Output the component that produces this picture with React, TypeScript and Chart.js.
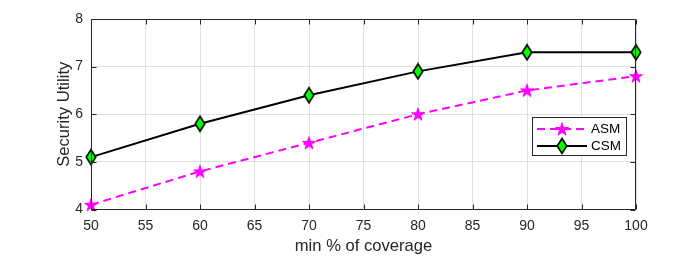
import React, { useEffect, useRef } from "react";
import { Chart, registerables } from "chart.js";

Chart.register(...registerables);

const coverage = [50, 60, 70, 80, 90, 100];
const asmValues = [4.1, 4.8, 5.4, 6.0, 6.5, 6.8];
const csmValues = [5.1, 5.8, 6.4, 6.9, 7.3, 7.3];
const seriesLabels = ["ASM", "CSM"];
const xTitle = "min % of coverage";
const yTitle = "Security Utility";

const FONT = "'Liberation Sans', Arial, Helvetica, sans-serif";
const TEXT = "#262626";
const MAGENTA = "#ff00ff";
const GREEN = "#00ff00";

function makePentagram(): HTMLCanvasElement {
  const c = document.createElement("canvas");
  c.width = 16;
  c.height = 16;
  const ctx = c.getContext("2d")!;
  const cx = 8, cy = 8.6, R = 6.8, r = R * 0.382;
  ctx.beginPath();
  for (let i = 0; i < 10; i++) {
    const rad = i % 2 === 0 ? R : r;
    const a = -Math.PI / 2 + (i * Math.PI) / 5;
    const px = cx + rad * Math.cos(a);
    const py = cy + rad * Math.sin(a);
    if (i === 0) ctx.moveTo(px, py);
    else ctx.lineTo(px, py);
  }
  ctx.closePath();
  ctx.fillStyle = MAGENTA;
  ctx.fill();
  ctx.strokeStyle = MAGENTA;
  ctx.lineWidth = 1;
  ctx.stroke();
  return c;
}

function makeDiamond(): HTMLCanvasElement {
  const c = document.createElement("canvas");
  c.width = 14;
  c.height = 18;
  const ctx = c.getContext("2d")!;
  ctx.beginPath();
  ctx.moveTo(7, 1.5);
  ctx.lineTo(11.8, 9);
  ctx.lineTo(7, 16.5);
  ctx.lineTo(2.2, 9);
  ctx.closePath();
  ctx.fillStyle = GREEN;
  ctx.fill();
  ctx.strokeStyle = "#000";
  ctx.lineWidth = 1.6;
  ctx.stroke();
  return c;
}

const matlabAxes = {
  id: "matlabAxes",
  afterDatasetsDraw(chart: any) {
    const { ctx, chartArea, scales } = chart;
    const { left, right, top, bottom } = chartArea;
    const L = Math.round(left) + 0.5;
    const R = Math.round(right) - 0.5;
    const T = Math.round(top) + 0.5;
    const B = Math.round(bottom) - 0.5;
    ctx.save();
    ctx.strokeStyle = TEXT;
    ctx.lineWidth = 1;
    ctx.beginPath();
    ctx.rect(L, T, R - L, B - T);
    const tl = 5;
    scales.x.ticks.forEach((t: any) => {
      const px = Math.round(scales.x.getPixelForValue(t.value)) + 0.5;
      ctx.moveTo(px, B);
      ctx.lineTo(px, B - tl);
      ctx.moveTo(px, T);
      ctx.lineTo(px, T + tl);
    });
    scales.y.ticks.forEach((t: any) => {
      const py = Math.round(scales.y.getPixelForValue(t.value)) + 0.5;
      ctx.moveTo(L, py);
      ctx.lineTo(L + tl, py);
      ctx.moveTo(R, py);
      ctx.lineTo(R - tl, py);
    });
    ctx.stroke();
    ctx.restore();
  },
  afterDraw(chart: any) {
    const { ctx } = chart;
    const bx = 532.5, by = 117.5, bw = 94, bh = 38;
    ctx.save();
    ctx.fillStyle = "#ffffff";
    ctx.fillRect(bx, by, bw, bh);
    ctx.strokeStyle = TEXT;
    ctx.lineWidth = 1;
    ctx.strokeRect(bx, by, bw, bh);
    const rows = [129, 146];
    chart.data.datasets.forEach((ds: any, i: number) => {
      const y = rows[i];
      ctx.save();
      ctx.strokeStyle = ds.borderColor;
      ctx.lineWidth = ds.borderWidth;
      ctx.setLineDash(ds.borderDash || []);
      ctx.beginPath();
      ctx.moveTo(537, y);
      ctx.lineTo(587, y);
      ctx.stroke();
      ctx.restore();
      const img = ds.pointStyle as HTMLCanvasElement;
      ctx.drawImage(img, 562 - img.width / 2, y - img.height / 2);
      ctx.fillStyle = "#000";
      ctx.font = `13.5px ${FONT}`;
      ctx.textAlign = "left";
      ctx.textBaseline = "middle";
      ctx.fillText(ds.label, 591, y + 0.5);
    });
    ctx.restore();
  },
};

export default function App() {
  const ref = useRef<HTMLCanvasElement>(null);
  useEffect(() => {
    if (!ref.current) return;
    const star = makePentagram();
    const diamond = makeDiamond();
    const chart = new Chart(ref.current, {
      type: "line",
      data: {
        datasets: [
          {
            label: seriesLabels[0],
            data: coverage.map((x, i) => ({ x, y: asmValues[i] })),
            borderColor: MAGENTA,
            backgroundColor: MAGENTA,
            borderWidth: 2,
            borderDash: [8, 5],
            pointStyle: star as any,
            pointRadius: 6,
            tension: 0,
          },
          {
            label: seriesLabels[1],
            data: coverage.map((x, i) => ({ x, y: csmValues[i] })),
            borderColor: "#000000",
            backgroundColor: GREEN,
            borderWidth: 2,
            pointStyle: diamond as any,
            pointRadius: 6,
            tension: 0,
          },
        ],
      },
      options: {
        animation: false,
        responsive: false,
        maintainAspectRatio: false,
        clip: false as any,
        layout: { padding: { left: 0, right: 64, top: 19, bottom: 0 } },
        plugins: { legend: { display: false }, tooltip: { enabled: false } },
        scales: {
          x: {
            type: "linear",
            min: 50,
            max: 100,
            ticks: { stepSize: 5, color: TEXT, font: { family: FONT, size: 14 }, padding: 8, maxRotation: 0 },
            grid: { color: "#dfdfdf", drawTicks: false },
            border: { display: false },
            title: {
              display: true,
              text: xTitle,
              color: TEXT,
              font: { family: FONT, size: 16.6, lineHeight: 1 },
              padding: { top: 0, bottom: 2.2 },
            },
            afterFit: (s: any) => {
              s.height = 47.5;
            },
          },
          y: {
            type: "linear",
            min: 4,
            max: 8,
            ticks: { stepSize: 1, color: TEXT, font: { family: FONT, size: 14 }, padding: 8 },
            grid: { color: "#dfdfdf", drawTicks: false },
            border: { display: false },
            title: {
              display: true,
              text: yTitle,
              color: TEXT,
              font: { family: FONT, size: 16.6, lineHeight: 1 },
              padding: { top: 55.7, bottom: 0 },
            },
            afterFit: (s: any) => {
              s.width = 91;
            },
          },
        },
      },
      plugins: [matlabAxes],
    });
    return () => chart.destroy();
  }, []);
  return (
    <div style={{ position: "absolute", left: 0, top: 0, width: 700, height: 257, background: "#fff" }}>
      <canvas ref={ref} width={700} height={257} style={{ display: "block", width: 700, height: 257 }} />
    </div>
  );
}
